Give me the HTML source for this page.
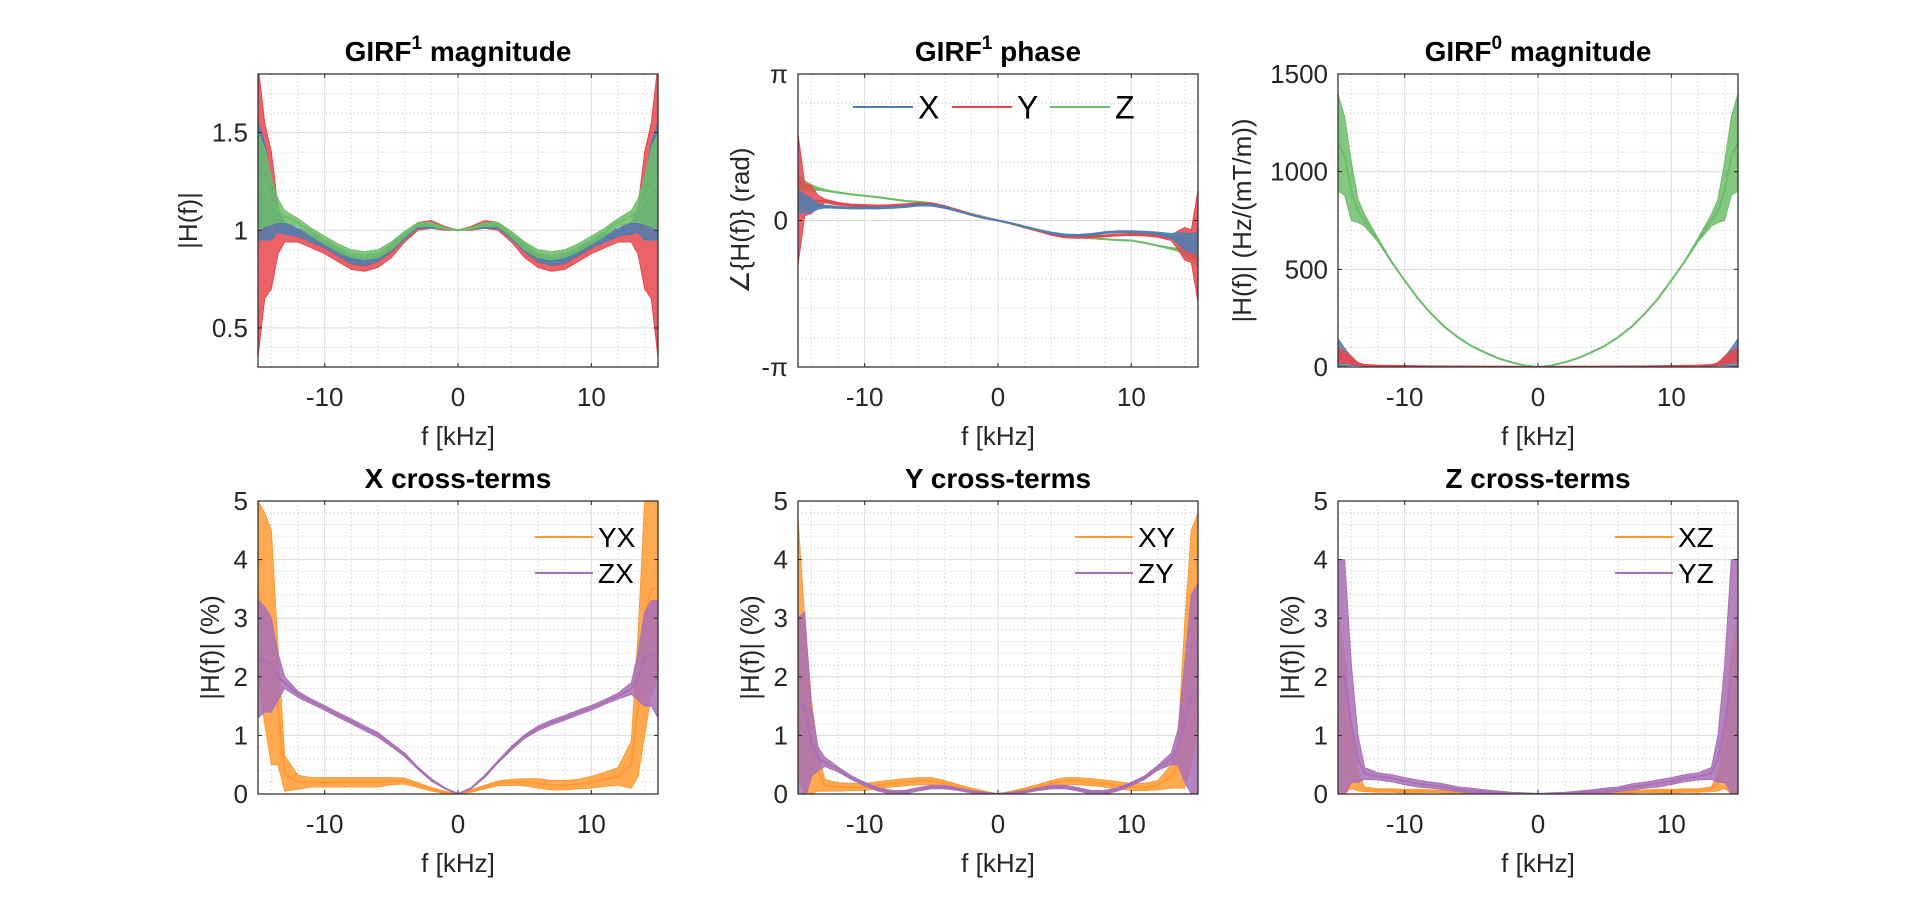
<!DOCTYPE html>
<html><head><meta charset="utf-8"><style>
html,body{margin:0;padding:0;background:#fff;}
svg{display:block;font-family:"Liberation Sans",sans-serif;}
</style></head><body>
<svg id="fig" width="1920" height="899" viewBox="0 0 1920 899"></svg>
<script>
// shared frequency categories (kHz)
const freqs = [-15,-14.5,-14,-13.5,-13,-12,-11,-10,-9,-8,-7,-6,-5,-4,-3,-2,-1,0,1,2,3,4,5,6,7,8,9,10,11,12,13,13.5,14,14.5,15];
const xTicks = [-10,0,10];
const xTickLabels = ['-10','0','10'];

// GIRF1 magnitude
const magX = [1.25,1.2,1.1,1.05,1.01,0.99,0.96,0.93,0.89,0.85,0.84,0.86,0.91,0.97,1.02,1.02,1.01,1.0,1.01,1.02,1.02,0.97,0.91,0.86,0.84,0.85,0.89,0.93,0.96,0.99,1.01,1.05,1.1,1.2,1.25];
const magXn = [0.3,0.25,0.15,0.06,0.03,0.02,0.02,0.02,0.02,0.02,0.02,0.02,0.02,0.015,0.01,0.01,0.005,0,0.005,0.01,0.01,0.015,0.02,0.02,0.02,0.02,0.02,0.02,0.02,0.02,0.03,0.06,0.15,0.25,0.3];
const magY = [1.1,1.1,1.05,1.0,0.99,0.97,0.94,0.91,0.87,0.83,0.82,0.84,0.89,0.96,1.02,1.03,1.01,1.0,1.01,1.03,1.02,0.96,0.89,0.84,0.82,0.83,0.87,0.91,0.94,0.97,0.99,1.0,1.05,1.1,1.1];
const magYn = [0.75,0.45,0.35,0.12,0.05,0.03,0.03,0.03,0.03,0.03,0.03,0.03,0.03,0.02,0.02,0.02,0.01,0,0.01,0.02,0.02,0.02,0.03,0.03,0.03,0.03,0.03,0.03,0.03,0.03,0.05,0.12,0.35,0.45,0.75];
const magZ = [1.25,1.22,1.15,1.1,1.07,1.04,0.99,0.95,0.91,0.88,0.87,0.88,0.92,0.98,1.03,1.03,1.01,1.0,1.01,1.03,1.03,0.98,0.92,0.88,0.87,0.88,0.91,0.95,0.99,1.04,1.07,1.1,1.15,1.22,1.25];
const magZn = [0.25,0.2,0.12,0.06,0.03,0.02,0.02,0.02,0.02,0.02,0.02,0.02,0.02,0.015,0.01,0.01,0.005,0,0.005,0.01,0.01,0.015,0.02,0.02,0.02,0.02,0.02,0.02,0.02,0.02,0.03,0.06,0.12,0.2,0.25];

// GIRF1 phase (rad)
const phX = [0.42,0.35,0.33,0.3,0.3,0.28,0.27,0.27,0.27,0.28,0.3,0.33,0.33,0.28,0.2,0.12,0.05,0,-0.06,-0.13,-0.2,-0.27,-0.31,-0.32,-0.3,-0.26,-0.24,-0.24,-0.25,-0.28,-0.33,-0.38,-0.45,-0.48,-0.5];
const phXn = [0.25,0.2,0.15,0.06,0.03,0.02,0.02,0.02,0.02,0.02,0.02,0.02,0.02,0.02,0.01,0.01,0.01,0,0.01,0.01,0.01,0.02,0.02,0.02,0.02,0.02,0.02,0.02,0.02,0.03,0.05,0.12,0.18,0.2,0.25];
const phY = [0.45,0.45,0.45,0.42,0.42,0.36,0.33,0.32,0.31,0.32,0.34,0.36,0.36,0.3,0.22,0.13,0.06,0,-0.06,-0.14,-0.22,-0.3,-0.35,-0.36,-0.35,-0.33,-0.31,-0.3,-0.31,-0.33,-0.38,-0.42,-0.5,-0.55,-0.55];
const phYn = [1.4,0.35,0.3,0.12,0.04,0.03,0.02,0.02,0.02,0.02,0.02,0.02,0.02,0.02,0.01,0.01,0.01,0,0.01,0.01,0.01,0.02,0.02,0.02,0.02,0.02,0.02,0.02,0.02,0.03,0.05,0.2,0.35,0.35,1.2];
const phZ = [0.85,0.75,0.7,0.68,0.65,0.6,0.56,0.53,0.5,0.46,0.42,0.4,0.37,0.3,0.22,0.14,0.07,0,-0.07,-0.15,-0.22,-0.29,-0.33,-0.36,-0.38,-0.4,-0.42,-0.43,-0.48,-0.54,-0.6,-0.63,-0.68,-0.75,-0.82];
const phZn = [0.15,0.1,0.07,0.03,0.02,0.01,0.01,0.01,0.01,0.01,0.01,0.01,0.01,0.01,0.01,0.01,0.01,0,0.01,0.01,0.01,0.01,0.01,0.01,0.01,0.01,0.01,0.01,0.01,0.01,0.02,0.03,0.07,0.1,0.15];

// GIRF0 magnitude (Hz/(mT/m))
const g0X = [75,50,30,15,8,5,4,3,3,2,2,2,1,1,1,1,0,0,0,1,1,1,1,2,2,2,3,3,4,5,8,15,30,50,75];
const g0Xn = [70,45,22,8,3,2,1,1,1,1,1,1,1,1,1,1,0,0,0,1,1,1,1,1,1,1,1,1,1,2,3,8,22,45,70];
const g0Y = [60,50,35,15,10,7,6,5,4,3,3,2,2,1,1,1,0,0,0,1,1,1,2,2,3,3,4,5,6,7,10,15,35,50,60];
const g0Yn = [40,30,20,6,2,1,1,1,1,1,1,1,1,1,1,1,0,0,0,1,1,1,1,1,1,1,1,1,1,1,2,6,20,30,40];
const g0Z = [1150,1080,900,800,750,650,540,443,350,272,205,152,108,75,45,24,8,0,8,24,45,75,108,152,205,272,350,443,540,650,750,800,900,1080,1150];
const g0Zn = [250,200,150,60,30,10,4,3,3,3,3,2,2,2,2,1,1,0,1,1,2,2,2,2,3,3,3,3,4,10,30,60,150,200,250];

// X cross-terms (%)
const xcYX = [3.5,3.0,2.5,1.5,0.35,0.2,0.2,0.2,0.2,0.2,0.2,0.2,0.22,0.22,0.15,0.08,0.03,0,0.05,0.12,0.18,0.2,0.2,0.18,0.15,0.15,0.17,0.2,0.25,0.3,0.5,1.5,3.0,3.5,3.5];
const xcYXn = [1.5,1.8,2.0,1.0,0.3,0.12,0.08,0.08,0.08,0.08,0.08,0.08,0.06,0.05,0.04,0.03,0.02,0,0.02,0.03,0.04,0.05,0.06,0.08,0.08,0.08,0.08,0.1,0.12,0.15,0.4,1.2,2.0,1.8,1.5];
const xcZX = [2.3,2.3,2.2,2.0,1.9,1.7,1.58,1.47,1.35,1.24,1.12,1.01,0.84,0.67,0.44,0.24,0.1,0,0.1,0.3,0.55,0.78,0.98,1.12,1.22,1.3,1.39,1.47,1.57,1.67,1.8,2.0,2.3,2.4,2.3];
const xcZXn = [1.0,0.9,0.8,0.4,0.1,0.05,0.04,0.04,0.04,0.04,0.04,0.04,0.03,0.03,0.02,0.02,0.01,0,0.01,0.02,0.02,0.03,0.03,0.04,0.04,0.04,0.04,0.04,0.04,0.05,0.1,0.4,0.8,0.9,1.0];

// Y cross-terms (%)
const ycXY = [2.5,1.5,0.8,0.4,0.15,0.12,0.12,0.12,0.15,0.18,0.2,0.22,0.22,0.18,0.12,0.07,0.03,0,0.03,0.07,0.12,0.18,0.22,0.22,0.2,0.18,0.15,0.12,0.12,0.15,0.3,0.5,1.5,2.5,3.0];
const ycXYn = [2.2,1.5,0.8,0.35,0.1,0.07,0.06,0.06,0.06,0.06,0.06,0.06,0.06,0.05,0.04,0.03,0.02,0,0.02,0.03,0.04,0.05,0.06,0.06,0.06,0.06,0.06,0.06,0.06,0.08,0.2,0.4,1.4,2.0,1.8];
const ycZY = [1.5,1.5,0.9,0.6,0.55,0.42,0.28,0.17,0.08,0.03,0.03,0.08,0.12,0.12,0.08,0.04,0.02,0,0.02,0.04,0.08,0.12,0.12,0.08,0.03,0.03,0.08,0.17,0.28,0.45,0.6,0.8,1.2,1.7,1.8];
const ycZYn = [1.5,1.6,0.6,0.2,0.08,0.04,0.03,0.03,0.03,0.03,0.03,0.03,0.03,0.03,0.02,0.02,0.01,0,0.01,0.02,0.02,0.03,0.03,0.03,0.03,0.03,0.03,0.03,0.03,0.04,0.1,0.3,1.0,1.7,1.8];

// Z cross-terms (%)
const zcXZ = [1.5,1.2,0.6,0.2,0.08,0.06,0.06,0.05,0.05,0.05,0.04,0.04,0.03,0.03,0.02,0.01,0.01,0,0.01,0.01,0.02,0.03,0.03,0.04,0.04,0.05,0.05,0.05,0.06,0.06,0.08,0.2,0.6,1.2,1.5];
const zcXZn = [1.5,1.2,0.5,0.15,0.04,0.03,0.03,0.03,0.03,0.02,0.02,0.02,0.02,0.02,0.01,0.01,0.01,0,0.01,0.01,0.01,0.02,0.02,0.02,0.02,0.02,0.03,0.03,0.03,0.03,0.04,0.15,0.5,1.2,1.5];
const zcYZ = [2.0,2.0,1.2,0.6,0.35,0.3,0.27,0.22,0.18,0.15,0.12,0.08,0.06,0.04,0.03,0.01,0.01,0,0.01,0.01,0.03,0.04,0.06,0.08,0.12,0.15,0.18,0.22,0.27,0.3,0.35,0.6,1.2,2.0,2.0];
const zcYZn = [2.0,2.0,1.0,0.4,0.1,0.06,0.06,0.06,0.06,0.05,0.05,0.04,0.04,0.03,0.02,0.02,0.01,0,0.01,0.02,0.02,0.03,0.04,0.04,0.05,0.05,0.06,0.06,0.06,0.06,0.1,0.4,1.0,2.0,2.0];

const C = {blue:'#4f7fb0', red:'#e8474c', green:'#6dbd6a', orange:'#ff9a33', purple:'#a970b6'};
const NS = 'http://www.w3.org/2000/svg';
const svg = document.getElementById('fig');
function mk(tag, attrs, parent){ const e=document.createElementNS(NS,tag); for(const k in attrs) e.setAttribute(k,attrs[k]); (parent||svg).appendChild(e); return e; }

const W=400, H=293;
let clipId=0;
function panel(cfg){
  const L=cfg.left, T=cfg.top;
  const g=mk('g',{});
  
  
  const xs=f=>L+(f+15)/30*W;
  const ys=v=>T+H-(v-cfg.ymin)/(cfg.ymax-cfg.ymin)*H;
  // minor grid
  for(let f=-14; f<=14; f+=2){ if(xTicks.includes(f)) continue;
    const l=mk('line',{x1:xs(f),x2:xs(f),y1:T,y2:T+H,stroke:'#c4c4c4','stroke-width':1,'stroke-dasharray':'1,3'},g);
      }
  cfg.yMinor.forEach(v=>{ const l=mk('line',{x1:L,x2:L+W,y1:ys(v),y2:ys(v),stroke:'#c4c4c4','stroke-width':1,'stroke-dasharray':'1,3'},g);
      });
  xTicks.forEach(f=>{ const l=mk('line',{x1:xs(f),x2:xs(f),y1:T,y2:T+H,stroke:'#dcdcdc','stroke-width':1},g);
      });
  cfg.yTicks.forEach(v=>{ const l=mk('line',{x1:L,x2:L+W,y1:ys(v),y2:ys(v),stroke:'#dcdcdc','stroke-width':1},g);
      });
  // clip
  const cid='clip'+(clipId++);
  const cp=mk('clipPath',{id:cid},g); mk('rect',{x:L,y:T,width:W,height:H},cp);
  const sg=mk('g',{'clip-path':'url(#'+cid+')'},g);
  cfg.series.forEach(s=>{
    const up=freqs.map((f,i)=>xs(f)+','+ys(s.v[i]+s.n[i]));
    const dn=freqs.map((f,i)=>xs(f)+','+ys(s.v[i]-s.n[i])).reverse();
    const band=mk('polygon',{points:up.concat(dn).join(' '),fill:s.c,'fill-opacity':0.85,stroke:s.c,'stroke-width':1},sg);
     
    const line=mk('polyline',{points:freqs.map((f,i)=>xs(f)+','+ys(s.v[i])).join(' '),fill:'none',stroke:s.c,'stroke-width':2},sg);
     
  });
  // box
  const box=mk('rect',{x:L,y:T,width:W,height:H,fill:'none',stroke:'#262626','stroke-width':1.2},g);
   
  // ticks & labels
  xTicks.forEach((f,i)=>{
    mk('line',{x1:xs(f),x2:xs(f),y1:T+H,y2:T+H-4,stroke:'#262626'},g);
    mk('line',{x1:xs(f),x2:xs(f),y1:T,y2:T+4,stroke:'#262626'},g);
    const t=mk('text',{x:xs(f),y:T+H+39,'text-anchor':'middle','font-size':26,fill:'#262626'},g);
    t.textContent=xTickLabels[i];
     
  });
  cfg.yTicks.forEach((v,i)=>{
    mk('line',{x1:L,x2:L+4,y1:ys(v),y2:ys(v),stroke:'#262626'},g);
    mk('line',{x1:L+W,x2:L+W-4,y1:ys(v),y2:ys(v),stroke:'#262626'},g);
    const t=mk('text',{x:L-10,y:ys(v)+9,'text-anchor':'end','font-size':26,fill:'#262626'},g);
    t.textContent=cfg.yTickLabels[i];
     
  });
  const xl=mk('text',{x:L+W/2,y:T+H+78,'text-anchor':'middle','font-size':26,fill:'#262626'},g);
  xl.textContent='f [kHz]';
   
  const yl=mk('text',{x:0,y:0,'text-anchor':'middle','font-size':26,fill:'#262626',transform:'translate('+(L-cfg.ylOff+9)+','+(T+H/2)+') rotate(-90)'},g);
  yl.textContent=cfg.ylabel;
   
  const tt=mk('text',{x:L+W/2,y:T-13,'text-anchor':'middle','font-size':28,'font-weight':'bold',fill:'#000'},g);
  if(cfg.sup){ tt.appendChild(document.createTextNode(cfg.title[0]));
    const ts=mk('tspan',{'font-size':19,dy:-12},tt); ts.textContent=cfg.sup;
    const t2=mk('tspan',{dy:12},tt); t2.textContent=cfg.title[1];
  } else tt.textContent=cfg.title;
   
  return g;
}
function range(a,b,s){const r=[];for(let v=a;v<=b+1e-9;v+=s)r.push(+v.toFixed(6));return r;}
const cols=[258,798,1338], rows=[74,501];
const PI=Math.PI;
const pctTicks=[0,1,2,3,4,5], pctLabels=['0','1','2','3','4','5'];

panel({name:'girf1-magnitude-panel',left:cols[0],top:rows[0],ymin:0.3,ymax:1.8,yTicks:[0.5,1,1.5],yTickLabels:['0.5','1','1.5'],yMinor:range(0.4,1.7,0.1).filter(v=>![0.5,1,1.5].includes(v)),ylabel:'|H(f)|',ylOff:70,title:['GIRF',' magnitude'],sup:'1',
  series:[{name:'y-axis-series',v:magY,n:magYn,c:C.red},{name:'x-axis-series',v:magX,n:magXn,c:C.blue},{name:'z-axis-series',v:magZ,n:magZn,c:C.green}]});
panel({name:'girf1-phase-panel',left:cols[1],top:rows[0],ymin:-PI,ymax:PI,yTicks:[-PI,0,PI],yTickLabels:['-π','0','π'],yMinor:[-4,-3,-2,-1,1,2,3,4].map(k=>k*PI/5),ylabel:'∠{H(f)} (rad)',ylOff:58,title:['GIRF',' phase'],sup:'1',
  series:[{name:'z-axis-series',v:phZ,n:phZn,c:C.green},{name:'y-axis-series',v:phY,n:phYn,c:C.red},{name:'x-axis-series',v:phX,n:phXn,c:C.blue}]});
panel({name:'girf0-magnitude-panel',left:cols[2],top:rows[0],ymin:0,ymax:1500,yTicks:[0,500,1000,1500],yTickLabels:['0','500','1000','1500'],yMinor:range(100,1400,100).filter(v=>v%500),ylabel:'|H(f)| (Hz/(mT/m))',ylOff:96,title:['GIRF',' magnitude'],sup:'0',
  series:[{name:'z-axis-series',v:g0Z,n:g0Zn,c:C.green},{name:'x-axis-series',v:g0X,n:g0Xn,c:C.blue},{name:'y-axis-series',v:g0Y,n:g0Yn,c:C.red}]});
const pm=range(0.2,4.8,0.2).filter(v=>Math.abs(v-Math.round(v))>1e-6);
panel({name:'x-cross-terms-panel',left:cols[0],top:rows[1],ymin:0,ymax:5,yTicks:pctTicks,yTickLabels:pctLabels,yMinor:pm,ylabel:'|H(f)| (%)',ylOff:48,title:'X cross-terms',
  series:[{name:'yx-series',v:xcYX,n:xcYXn,c:C.orange},{name:'zx-series',v:xcZX,n:xcZXn,c:C.purple}]});
panel({name:'y-cross-terms-panel',left:cols[1],top:rows[1],ymin:0,ymax:5,yTicks:pctTicks,yTickLabels:pctLabels,yMinor:pm,ylabel:'|H(f)| (%)',ylOff:48,title:'Y cross-terms',
  series:[{name:'xy-series',v:ycXY,n:ycXYn,c:C.orange},{name:'zy-series',v:ycZY,n:ycZYn,c:C.purple}]});
panel({name:'z-cross-terms-panel',left:cols[2],top:rows[1],ymin:0,ymax:5,yTicks:pctTicks,yTickLabels:pctLabels,yMinor:pm,ylabel:'|H(f)| (%)',ylOff:48,title:'Z cross-terms',
  series:[{name:'xz-series',v:zcXZ,n:zcXZn,c:C.orange},{name:'yz-series',v:zcYZ,n:zcYZn,c:C.purple}]});

// legends
function legendEntry(x1,x2,y,color,label,fs){
  const g=mk('g',{});
  
  
  mk('line',{x1:x1,x2:x2,y1:y,y2:y,stroke:color,'stroke-width':2},g);
  const t=mk('text',{x:x2+5,y:y+fs*0.36,'font-size':fs,fill:'#000'},g);
  t.textContent=label;
}
legendEntry(853,913,107,C.blue,'X',32);
legendEntry(952,1012,107,C.red,'Y',32);
legendEntry(1050,1110,107,C.green,'Z',32);
[[cols[0],'YX','ZX'],[cols[1],'XY','ZY'],[cols[2],'XZ','YZ']].forEach(([L,a,b])=>{
  legendEntry(L+277,L+335,537,C.orange,a,28);
  legendEntry(L+277,L+335,573,C.purple,b,28);
});
</script>
</body></html>
